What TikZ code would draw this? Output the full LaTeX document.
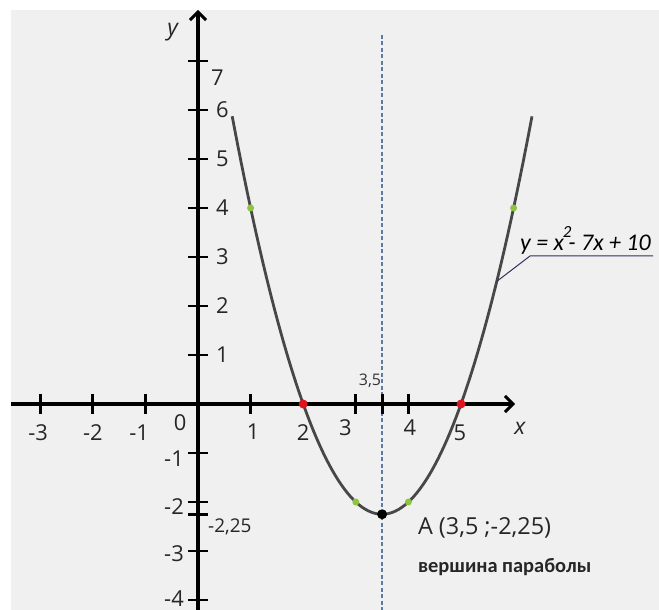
\documentclass[tikz,border=0pt]{standalone}
\usepackage{fontspec}
\setmainfont{Open Sans}
\newfontfamily\eqfont{Carlito}
\usetikzlibrary{arrows.meta}
\definecolor{bgc}{HTML}{F0F0F0}
\definecolor{dashc}{HTML}{5B7BA6}
\definecolor{curvec}{HTML}{474747}
\definecolor{ptgreen}{HTML}{8CC63F}
\definecolor{ptred}{HTML}{E0141E}
\definecolor{leadc}{HTML}{30305E}
\begin{document}
\begin{tikzpicture}[x=52.6bp,y=49bp,
  axis/.style={line width=3bp, black, -{Straight Barb[length=8bp,width=16bp]}},
  tk/.style={line width=2.8bp, black},
  lbl/.style={font=\fontsize{22}{24}\selectfont, inner sep=0pt, text=black!85},
  small/.style={font=\fontsize{16}{18}\selectfont, inner sep=0pt, text=black!80},
  dotg/.style={circle, fill=ptgreen, inner sep=0pt, minimum size=7bp},
  dotr/.style={circle, fill=ptred, inner sep=0pt, minimum size=9bp},
  dotb/.style={circle, fill=black, inner sep=0pt, minimum size=10bp},
  curve/.style={line width=2.8bp, curvec},
  sym/.style={dashc, line width=1.8bp, dash pattern=on 4bp off 2.5bp},
  lead/.style={leadc, line width=1bp}]
\useasboundingbox (-198bp,-206bp) rectangle (461bp,404bp);
\fill[white] (-198bp,-206bp) rectangle (461bp,404bp);
\fill[bgc] (-187bp,-206bp) rectangle (461bp,394bp);
% symmetry axis
\coordinate (st) at (3.5,369bp);
\coordinate (sb) at (3.5,-206bp);
\draw[sym] (st) -- (sb);
% axes
\coordinate (xl) at (-187bp,0);
\coordinate (xr) at (317bp,0);
\coordinate (yb) at (0,-206bp);
\coordinate (yt) at (0,394bp);
\draw[axis] (xl) -- (xr);
\draw[axis] (yb) -- (yt);
% ticks
\foreach \t in {-3,-2,-1,1,3,3.5,4}
  \draw[tk] (\t,0) +(0,-10bp) -- +(0,10bp);
\foreach \t in {1,2,3,4,5,6,7,-1,-2,-2.25,-3,-4}
  \draw[tk] (0,\t) +(-10bp,0) -- +(10bp,0);
% parabola
\draw[curve] plot[domain=0.65:6.35, samples=100] (\x, {\x*\x-7*\x+10});
% points
\node[dotg] (g1) at (1,4) {};
\node[dotg] (g6) at (6,4) {};
\node[dotg] (g3) at (3,-2) {};
\node[dotg] (g4) at (4,-2) {};
\node[dotr] (r2) at (2,0) {};
\node[dotr] (r5) at (5,0) {};
\node[dotb] (A) at (3.5,-2.25) {};
% axis names
\node[lbl, font=\fontsize{23}{25}\selectfont\itshape] (ny) at (-0.48,7.59) {y};
\node[lbl, font=\fontsize{23}{25}\selectfont\itshape] (nx) at (6.12,-0.49) {x};
% y labels
\node[lbl, anchor=west] (y7) at ([xshift=13bp]0,6.65) {7};
\foreach \t in {1,...,6}
  \node[lbl, anchor=west] (y\t) at ([xshift=18bp]0,\t) {\t};
\node[lbl, anchor=east] (ym1) at ([xshift=-14bp]0,-1.12) {-1};
\node[lbl, anchor=east] (ym2) at ([xshift=-14bp]0,-2.1) {-2};
\node[lbl, anchor=east] (ym3) at ([xshift=-14bp]0,-3.06) {-3};
\node[lbl, anchor=east] (ym4) at ([xshift=-14bp]0,-3.97) {-4};
\node[lbl, font=\fontsize{19}{21}\selectfont, anchor=west] (y225) at ([xshift=10bp]0,-2.51) {-2,25};
% x labels
\node[lbl] (xm3) at (-3.04,-0.59) {-3};
\node[lbl] (xm2) at (-2.0,-0.59) {-2};
\node[lbl] (xm1) at (-1.12,-0.59) {-1};
\node[lbl] (x0) at (-0.34,-0.39) {0};
\node[lbl] (x1) at (1.05,-0.57) {1};
\node[lbl] (x2) at (2.0,-0.59) {2};
\node[lbl] (x3) at (2.8,-0.49) {3};
\node[lbl] (x4) at (4.03,-0.49) {4};
\node[lbl] (x5) at (4.98,-0.59) {5};
\node[small] (x35) at (3.27,0.47) {3,5};
% vertex label
\node[lbl, font=\fontsize{23.5}{25}\selectfont, anchor=west] (Alab) at (4.18,-2.53) {A (3,5 ;-2,25)};
\node[lbl, font=\eqfont\bfseries\fontsize{20.5}{22}\selectfont, anchor=west] (vlab) at (4.18,-3.33) {вершина параболы};
% equation label
\coordinate (lp) at (5.68,{5.68*5.68-7*5.68+10});
\coordinate (lk) at (332bp,148bp);
\coordinate (le) at (455bp,148bp);
\draw[lead] (lp) -- (lk) -- (le);
\node[lbl, anchor=base west, font=\eqfont\itshape\fontsize{24}{26}\selectfont, text=black] (eq) at (322bp,153bp)
  {y = x\kern-0.05em\raisebox{0.55em}{\fontsize{17}{19}\selectfont 2}\kern-0.12em- 7x + 10};
\end{tikzpicture}
\end{document}
